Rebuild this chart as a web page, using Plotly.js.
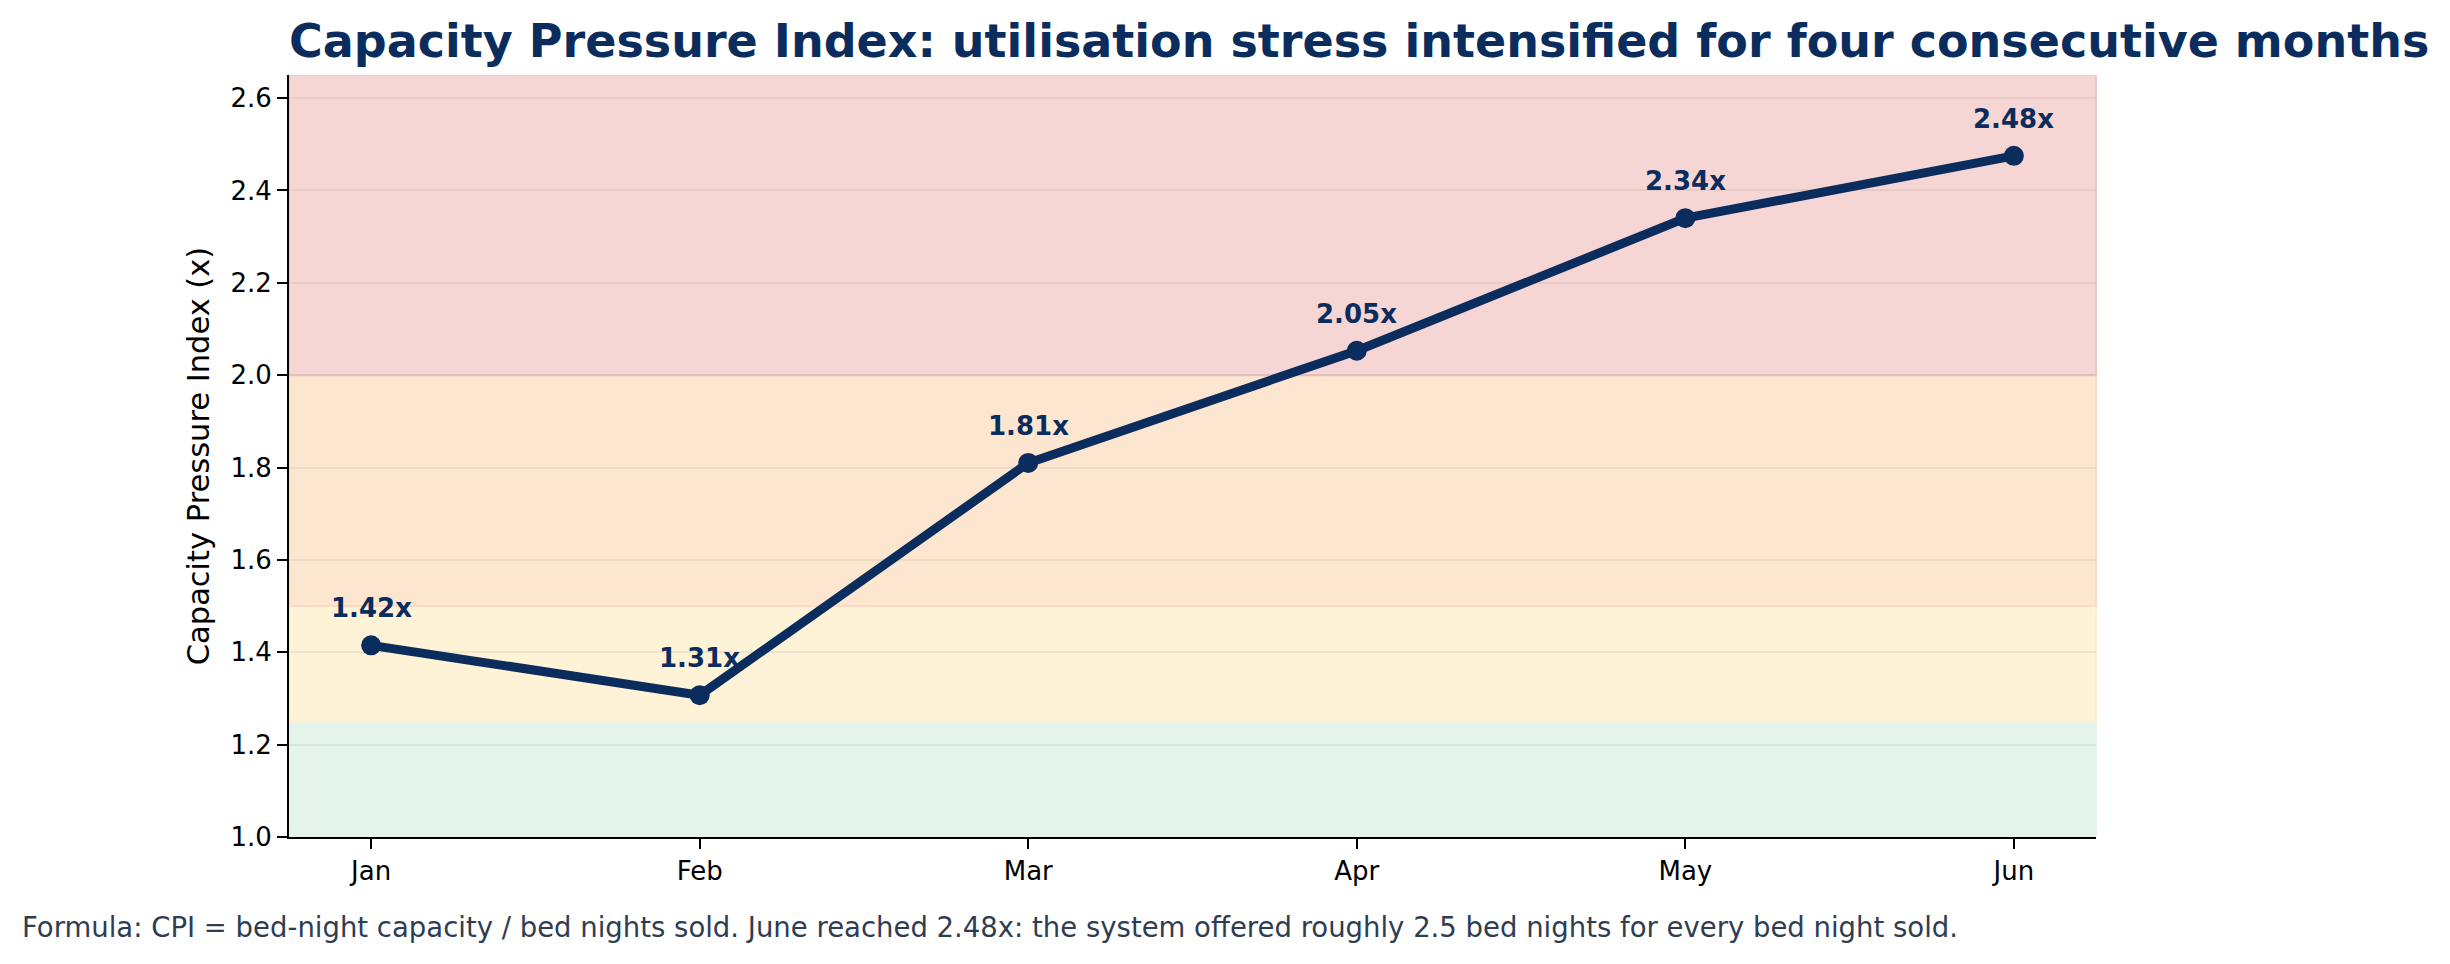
<!DOCTYPE html>
<html>
<head>
<meta charset="utf-8">
<script src="https://cdn.plot.ly/plotly-3.0.1.min.js"></script>
<style>
    html, body { margin: 0; padding: 0; background: #ffffff; }
    #plotly-chart { width: 2450px; height: 964px; }
</style>
</head>
<body>
<div id="plotly-chart"></div>
<script>
const months = ['Jan', 'Feb', 'Mar', 'Apr', 'May', 'Jun'];
const cpiValues = [1.415, 1.307, 1.81, 2.053, 2.34, 2.475];
const cpiLabels = ['1.42x', '1.31x', '1.81x', '2.05x', '2.34x', '2.48x'];

// pressure bands (lower, upper, fill, edge)
const bandLower = [1.0, 1.25, 1.5, 2.0];
const bandUpper = [1.25, 1.5, 2.0, 2.65];
const bandFills = ['#e5f4ea', '#fff3d7', '#fde6cf', '#f6d6d5'];
const bandEdges = ['#e5f4ea', '#fcefd0', '#fadcc5', '#f0c6c6'];

const yTickValues = [1.0, 1.2, 1.4, 1.6, 1.8, 2.0, 2.2, 2.4, 2.6];

const navy = '#0b2d5e';
const fontFamily = '"DejaVu Sans", "Liberation Sans", sans-serif';

function drawChart() {
    const lineTrace = {
        x: months,
        y: cpiValues,
        type: 'scatter',
        mode: 'lines+markers',
        name: 'CPI',
        line: { color: navy, width: 9 },
        marker: { color: navy, size: 20 },
        cliponaxis: false,
        hoverinfo: 'skip',
    };

    const shapes = bandLower.map((low, i) => ({
        type: 'rect',
        xref: 'paper',
        yref: 'y',
        x0: 0,
        x1: 1,
        y0: low,
        y1: bandUpper[i],
        fillcolor: bandFills[i],
        line: { color: bandEdges[i], width: 2 },
        layer: 'below',
    }));

    const labels = months.map((m, i) => ({
        x: m,
        y: cpiValues[i],
        xref: 'x',
        yref: 'y',
        text: cpiLabels[i],
        showarrow: false,
        yshift: 37,
        xanchor: 'center',
        yanchor: 'middle',
        font: { family: fontFamily, size: 26, color: navy, weight: 'bold' },
    }));

    labels.push({
        text: 'Formula: CPI = bed-night capacity / bed nights sold. June reached 2.48x: the system offered roughly 2.5 bed nights for every bed night sold.',
        xref: 'paper',
        yref: 'paper',
        x: -0.149,
        y: -0.118,
        xanchor: 'left',
        yanchor: 'middle',
        showarrow: false,
        font: { family: fontFamily, size: 27.5, color: '#2f3d52' },
    });

    const layout = {
        width: 2450,
        height: 964,
        paper_bgcolor: '#ffffff',
        plot_bgcolor: 'rgba(0,0,0,0)',
        margin: { t: 75, r: 354, b: 127, l: 289 },
        showlegend: false,
        font: { family: fontFamily, color: '#000000' },

        title: {
            text: 'Capacity Pressure Index: utilisation stress intensified for four consecutive months',
            font: { family: fontFamily, size: 46, color: navy, weight: 'bold' },
            xref: 'paper',
            x: 0,
            xanchor: 'left',
            yref: 'container',
            y: 0.958,
            yanchor: 'middle',
        },

        xaxis: {
            type: 'category',
            range: [-0.25, 5.25],
            showgrid: false,
            zeroline: false,
            showline: true,
            linecolor: '#000000',
            linewidth: 2,
            ticks: 'outside',
            ticklen: 10,
            tickwidth: 2,
            tickcolor: '#000000',
            tickfont: { family: fontFamily, size: 26, color: '#000000' },
            fixedrange: true,
        },
        yaxis: {
            range: [1.0, 2.65],
            tickvals: yTickValues,
            ticktext: yTickValues.map(v => v.toFixed(1)),
            showgrid: true,
            gridcolor: 'rgba(128, 128, 128, 0.13)',
            gridwidth: 2,
            zeroline: false,
            showline: true,
            linecolor: '#000000',
            linewidth: 2,
            ticks: 'outside',
            ticklen: 10,
            tickwidth: 2,
            tickcolor: '#000000',
            tickfont: { family: fontFamily, size: 26, color: '#000000' },
            title: {
                text: 'Capacity Pressure Index (x)',
                font: { family: fontFamily, size: 30.5, color: '#000000' },
                standoff: 12,
            },
            fixedrange: true,
        },
        shapes: shapes,
        annotations: labels,
    };

    const config = {
        responsive: false,
        displayModeBar: false,
        staticPlot: true,
    };

    Plotly.newPlot('plotly-chart', [lineTrace], layout, config);
}

drawChart();
</script>
</body>
</html>
